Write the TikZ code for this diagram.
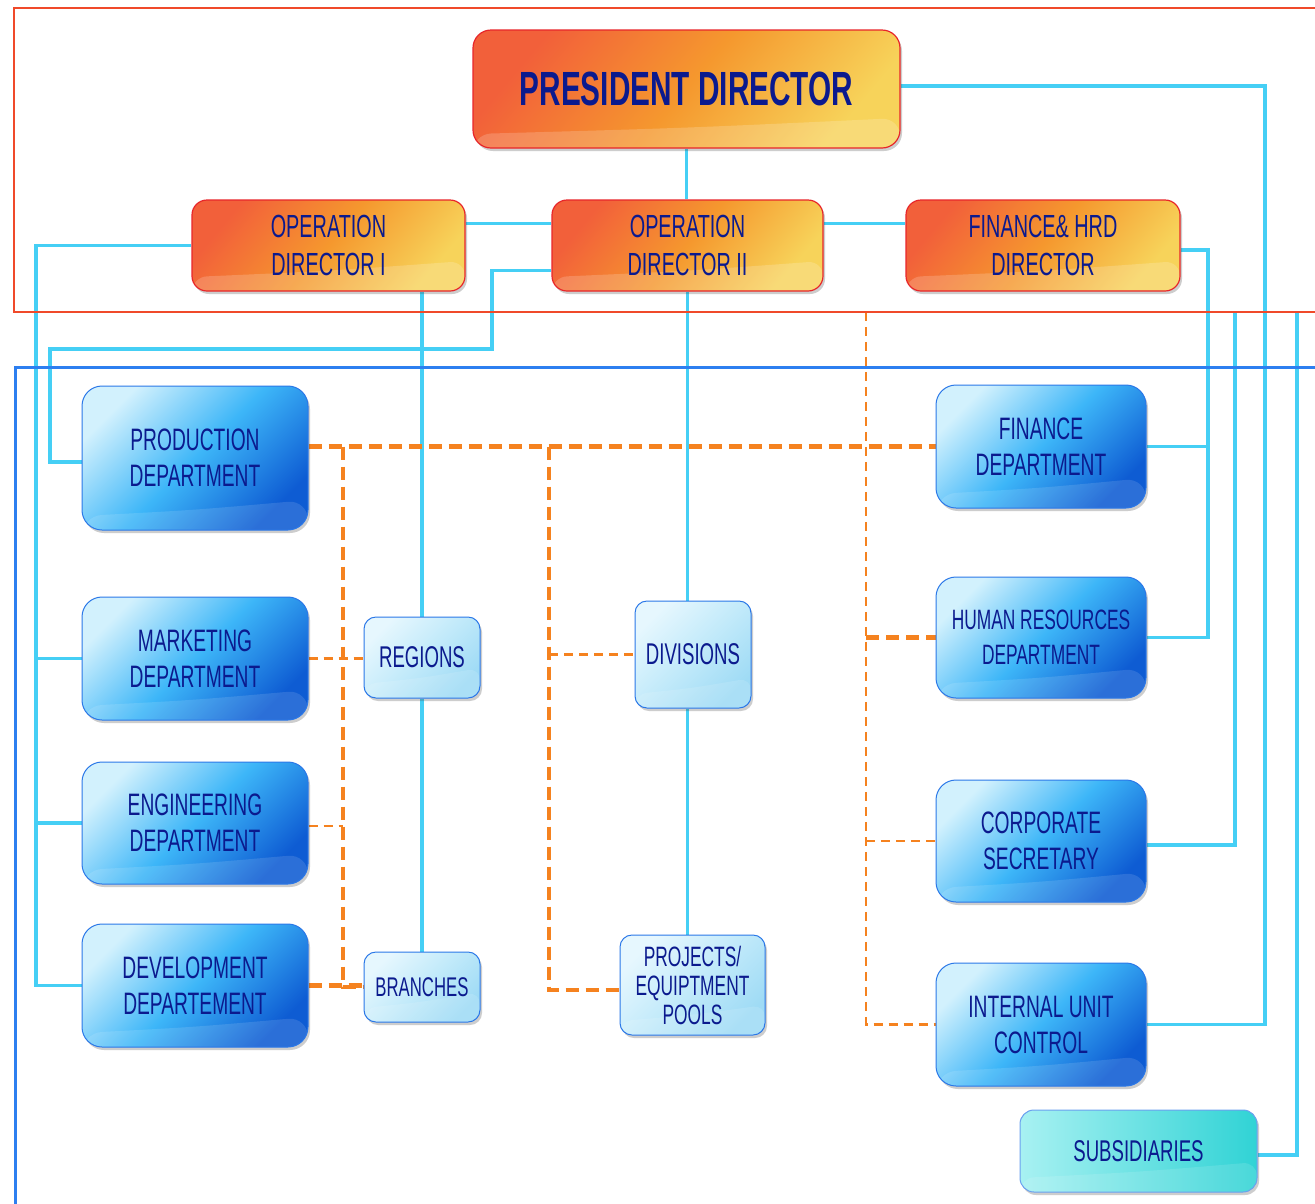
\documentclass[tikz,border=0pt]{standalone}
\usepackage{fontspec}
\newfontfamily\cf[FakeStretch=0.62]{Liberation Sans}
\usetikzlibrary{shadows}
\pgfdeclarelayer{bg}
\pgfsetlayers{bg,main}
\definecolor{cyanln}{HTML}{45CFF5}
\definecolor{navytext}{HTML}{0B1A8E}
\definecolor{orgdash}{HTML}{F5821F}
\definecolor{redframe}{HTML}{F04A2A}
\definecolor{blueframe}{HTML}{2D7FF0}
\definecolor{or1}{HTML}{F2603A}
\definecolor{or2}{HTML}{F5982E}
\definecolor{or3}{HTML}{F7D35A}
\definecolor{dirline}{HTML}{E8262A}
\definecolor{bl1}{HTML}{D2F1FD}
\definecolor{bl2}{HTML}{3DB6F8}
\definecolor{bl3}{HTML}{0E5CD3}
\definecolor{blline}{HTML}{2B78E8}
\definecolor{sm1}{HTML}{E6F7FE}
\definecolor{sm2}{HTML}{C2EAFA}
\definecolor{sm3}{HTML}{9FDBF5}
\definecolor{sb1}{HTML}{A8F1F2}
\definecolor{sb2}{HTML}{30D3D5}
\tikzset{
  box/.style={align=center, inner sep=0pt, text=navytext},
  gloss/.style={path picture={\fill[white,opacity=#1]
      (path picture bounding box.south west) -- ([yshift=14pt]path picture bounding box.south west)
      .. controls ([yshift=20pt]path picture bounding box.south) .. ([yshift=30pt]path picture bounding box.south east)
      -- (path picture bounding box.south east) -- cycle;}},
  shad/.style={drop shadow={shadow xshift=2pt, shadow yshift=-3pt, opacity=0.28, fill=black!70}},
  dirbox/.style={box, rounded corners=15pt, draw=dirline, line width=1.2pt,
      top color=or1, bottom color=or3, middle color=or2, shading angle=50, shad, gloss=0.18,
      font=\cf\fontsize{32}{38}\selectfont},
  presbox/.style={dirbox, rounded corners=18pt, font=\cf\bfseries\fontsize{48}{52}\selectfont},
  deptbox/.style={box, rounded corners=20pt, draw=blline, line width=1pt,
      top color=bl1, bottom color=bl3, middle color=bl2, shading angle=45, shad, gloss=0.12,
      font=\cf\fontsize{31}{36}\selectfont},
  smallbox/.style={box, rounded corners=12pt, draw=blline, line width=1pt,
      top color=sm1, bottom color=sm3, middle color=sm2, shading angle=45, shad, gloss=0.12,
      font=\cf\fontsize{30}{34}\selectfont},
  subbox/.style={box, rounded corners=14pt, draw=blline!70, line width=1pt,
      left color=sb1, right color=sb2, shad, gloss=0.12,
      font=\cf\fontsize{30}{34}\selectfont},
  cyanl/.style={draw=cyanln, line width=3.5pt},
  odash/.style={draw=orgdash, line width=4.5pt, dash pattern=on 13pt off 7pt},
  odthin/.style={draw=orgdash, line width=2.5pt, dash pattern=on 9pt off 6pt},
}
\begin{document}
\begin{tikzpicture}[x=1pt,y=-1pt]
\useasboundingbox (0,0) rectangle (1315,1203);
% directors
\node[presbox, minimum width=427pt, minimum height=118pt] (pres) at (686.5,89) {PRESIDENT DIRECTOR};
\node[dirbox, minimum width=273pt, minimum height=91pt] (od1) at (328.5,245.5) {OPERATION\\DIRECTOR I};
\node[dirbox, minimum width=271pt, minimum height=91pt] (od2) at (687.5,245.5) {OPERATION\\DIRECTOR II};
\node[dirbox, minimum width=274pt, minimum height=91pt] (fhd) at (1043,245.5) {FINANCE\& HRD\\DIRECTOR};
% departments left
\node[deptbox, minimum width=226pt, minimum height=144pt] (prod) at (195,458) {PRODUCTION\\DEPARTMENT};
\node[deptbox, minimum width=226pt, minimum height=123pt] (mkt) at (195,658.5) {MARKETING\\DEPARTMENT};
\node[deptbox, minimum width=226pt, minimum height=122pt] (eng) at (195,823) {ENGINEERING\\DEPARTMENT};
\node[deptbox, minimum width=226pt, minimum height=123pt] (dev) at (195,985.5) {DEVELOPMENT\\DEPARTEMENT};
% small boxes
\node[smallbox, minimum width=116pt, minimum height=81pt] (reg) at (422,657.5) {REGIONS};
\node[smallbox, minimum width=116pt, minimum height=70pt, font=\cf\fontsize{27}{30}\selectfont] (bra) at (422,987) {BRANCHES};
\node[smallbox, minimum width=116pt, minimum height=107pt] (div) at (693,654.5) {DIVISIONS};
\node[smallbox, minimum width=145pt, minimum height=100pt, font=\cf\fontsize{28}{29}\selectfont] (proj) at (692.5,985) {PROJECTS/\\EQUIPTMENT\\POOLS};
% departments right
\node[deptbox, minimum width=210pt, minimum height=123pt] (fin) at (1041,446.5) {FINANCE\\DEPARTMENT};
\node[deptbox, minimum width=210pt, minimum height=121pt, font=\cf\fontsize{28}{35}\selectfont] (hr) at (1041,637.5) {HUMAN RESOURCES\\DEPARTMENT};
\node[deptbox, minimum width=210pt, minimum height=122pt] (cs) at (1041,841) {CORPORATE\\SECRETARY};
\node[deptbox, minimum width=210pt, minimum height=123pt] (iuc) at (1041,1024.5) {INTERNAL UNIT\\CONTROL};
\node[subbox, minimum width=237pt, minimum height=82pt] (sub) at (1138.5,1151) {SUBSIDIARIES};

\begin{pgfonlayer}{bg}
\fill[white] (0,0) rectangle (1315,1203);
\coordinate (lbus) at (36,0);
\coordinate (rb2) at (1208,0);
\coordinate (rb3) at (1265,0);
\coordinate (b1) at (492,349);
\coordinate (b2) at (50,349);
\coordinate (cstop) at (1235,312);
\coordinate (subtop) at (1297,312);
\coordinate (vb1) at (343,446.5);
\coordinate (vb2) at (549,446.5);
\coordinate (vo) at (866,312);
% cyan connectors
\draw[cyanl] (pres.south) -- (pres.south |- od2.north);
\draw[cyanl] ([yshift=22pt]od1.east) -- ([yshift=22pt]od2.west);
\draw[cyanl] ([yshift=22pt]od2.east) -- ([yshift=22pt]fhd.west);
\draw[cyanl] ([yshift=3pt]pres.east) -| (rb3 |- iuc.east) -- (iuc.east);
\draw[cyanl] (od1.west) -| (lbus |- dev.west) -- (dev.west);
\draw[cyanl] (mkt.west) -- (mkt.west -| lbus);
\draw[cyanl] (eng.west) -- (eng.west -| lbus);
\draw[cyanl] ([yshift=-25pt]od2.west) -| (b1) -- (b2) |- ([yshift=-4pt]prod.west);
\draw[cyanl] (reg.north |- od1.south) -- (reg.north);
\draw[cyanl] (reg.south) -- (bra.north);
\draw[cyanl] (od2.south) -- (od2.south |- div.north);
\draw[cyanl] (od2.south |- div.south) -- (od2.south |- proj.north);
\draw[cyanl] ([yshift=-4.5pt]fhd.east) -| (rb2 |- hr.east) -- (hr.east);
\draw[cyanl] (fin.east) -- (fin.east -| rb2);
\draw[cyanl] ([yshift=-4pt]cs.east) -| (cstop);
\draw[cyanl] ([yshift=-4pt]sub.east) -| (subtop);
% orange dashed connectors
\draw[odash] (prod.east |- fin.west) -- (fin.west);
\draw[odash] (vb1) |- (bra.west);
\draw[odash] (dev.east) -- (dev.east -| bra.west);
\draw[odash] (vb2) |- ([yshift=-5pt]proj.west);
\draw[odthin] (mkt.east) -- (mkt.east -| reg.west);
\draw[odthin] ([yshift=-3pt]eng.east) -- ([yshift=-3pt]eng.east -| vb1);
\draw[odthin] (vb2 |- div.west) -- (div.west);
\draw[odthin] (vo) |- (iuc.west);
\draw[odash] (vo |- hr.west) -- (hr.west);
\draw[odthin] (vo |- cs.west) -- (cs.west);
% frames
\draw[draw=redframe, line width=2pt] (1316,8) -- (14,8) -- (14,312) -- (1316,312);
\draw[draw=blueframe, line width=3pt] (1316,367) -- (15,367) -- (15,1204);
\end{pgfonlayer}
\end{tikzpicture}
\end{document}
